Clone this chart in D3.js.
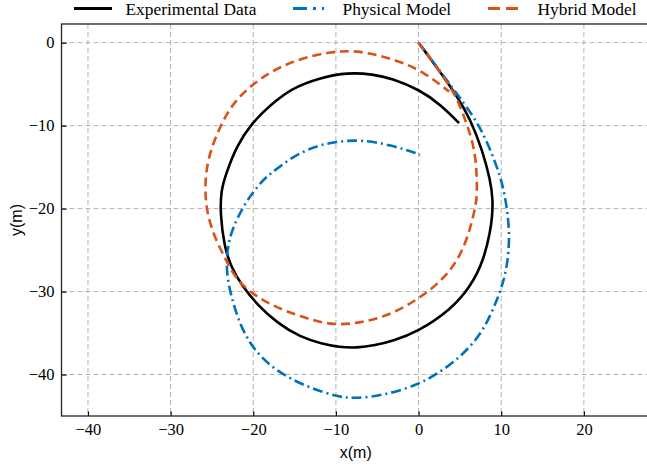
<!DOCTYPE html>
<html>
<head>
<meta charset="utf-8">
<script src="https://cdn.jsdelivr.net/npm/d3@7"></script>
<style>
  html, body { margin: 0; padding: 0; background: #fff; }
  svg { display: block; }
</style>
</head>
<body>
<svg id="chart"></svg>
<script>
width = 647;
height = 466;
margin = { top: 24, right: -3, bottom: 50, left: 61.5 };

// trajectories (metres)
expX = [0, 2.3, 4.7, 6.3, 7.7, 8.7, 9.0, 8.9, 8.7, 7.9, 6.3, 3.9, -0.2, -3.0, -5.3, -7.5, -9.6, -11.7, -14.3, -17.1, -19.5, -21.3, -22.7, -23.5, -24.0, -23.9, -23.3, -22.0, -20.1, -18.0, -15.4, -11.8, -8.6, -5.5, -3.3, 0.2, 2.7, 4.9];
expY = [0, -3.1, -6.5, -9.3, -12.9, -16.6, -19.0, -21.0, -22.6, -26.2, -29.4, -32.2, -34.9, -35.9, -36.5, -36.8, -36.7, -36.3, -35.5, -33.8, -31.6, -29.4, -27.0, -24.6, -20.6, -17.8, -15.8, -12.4, -9.6, -7.6, -5.5, -4.2, -3.6, -3.8, -4.3, -5.7, -7.5, -9.7];

physX = [0, 3.1, 5.5, 7.3, 8.7, 9.9, 10.5, 11.1, 10.7, 9.7, 7.9, 5.5, 2.7, -0.2, -4.2, -7.6, -9.8, -13.5, -17.1, -19.9, -21.5, -22.7, -23.3, -23.1, -22.6, -21.1, -18.9, -17.9, -15.5, -12.7, -9.8, -7.0, -3.4, 0.2];
physY = [0, -4.1, -7.3, -9.9, -12.9, -16.1, -18.6, -23.0, -27.4, -30.6, -34.7, -37.5, -39.7, -41.3, -42.5, -42.9, -42.7, -41.5, -39.7, -37.1, -34.3, -30.6, -27.4, -24.6, -22.6, -19.4, -16.6, -15.8, -13.9, -12.5, -11.9, -11.7, -12.3, -13.5];

hybX = [0, 2.3, 4.5, 5.5, 6.5, 7.0, 7.1, 6.9, 5.9, 4.3, 2.2, -0.2, -3.4, -7.0, -10.6, -14.3, -17.5, -20.3, -22.3, -23.5, -24.7, -25.6, -25.9, -25.5, -24.0, -22.4, -20.2, -17.6, -14.3, -10.6, -8.6, -6.6, -2.6, 0.6, 3.7];
hybY = [0, -3.1, -6.3, -8.9, -11.7, -14.5, -18.2, -19.8, -23.8, -27.0, -29.2, -31.0, -32.8, -33.8, -34.1, -33.0, -31.8, -30.2, -28.2, -25.8, -23.4, -20.6, -17.4, -13.8, -10.0, -7.2, -5.1, -3.3, -1.9, -1.1, -1.0, -1.1, -2.1, -3.5, -5.9];

xTicks = [-40, -30, -20, -10, 0, 10, 20];
yTicks = [0, -10, -20, -30, -40];

series = [
  { name: 'Experimental Data', xs: expX, ys: expY, color: '#000000', dash: null },
  { name: 'Physical Model', xs: physX, ys: physY, color: '#0072BD', dash: '10,4,2,4' },
  { name: 'Hybrid Model', xs: hybX, ys: hybY, color: '#D95319', dash: '9,5' }
];

const svg = d3.select('#chart').attr('width', width).attr('height', height);

x = d3.scaleLinear()
  .domain([-43.2, 28.0])
  .range([margin.left, width - margin.right]);

y = d3.scaleLinear()
  .domain([-45.0, 2.25])
  .range([height - margin.bottom, margin.top]);

// grid
svg.append('g')
  .attr('stroke', '#b4b4b4')
  .attr('stroke-width', 1)
  .attr('stroke-dasharray', '5,3')
  .call(g => g.selectAll('.gx').data(xTicks).join('line').attr('class', 'gx')
    .attr('x1', d => x(d)).attr('x2', d => x(d))
    .attr('y1', margin.top).attr('y2', height - margin.bottom))
  .call(g => g.selectAll('.gy').data(yTicks).join('line').attr('class', 'gy')
    .attr('x1', margin.left).attr('x2', width - margin.right)
    .attr('y1', d => y(d)).attr('y2', d => y(d)));

// curves (B-spline smooths the hand-read points)
line = d3.line()
  .x(d => x(d[0]))
  .y(d => y(d[1]))
  .curve(d3.curveBasis);

svg.append('clipPath').attr('id', 'clip')
  .append('rect')
  .attr('x', margin.left).attr('y', margin.top)
  .attr('width', width - margin.right - margin.left)
  .attr('height', height - margin.bottom - margin.top);

svg.append('g')
  .attr('clip-path', 'url(#clip)')
  .selectAll('path')
  .data(series)
  .join('path')
  .attr('fill', 'none')
  .attr('stroke', d => d.color)
  .attr('stroke-width', 2.6)
  .attr('stroke-dasharray', d => d.dash)
  .attr('d', d => line(d.xs.map((v, i) => [v, d.ys[i]])));

// axes
tickStyle = g => g
  .call(g => g.select('.domain').remove())
  .call(g => g.selectAll('.tick line').attr('stroke', '#000').attr('stroke-width', 1.2))
  .call(g => g.selectAll('.tick text')
    .attr('font-family', '"Liberation Serif", "Times New Roman", serif')
    .attr('font-size', 16.5).attr('fill', '#000'));

xAxis = g => g
  .attr('transform', `translate(0,${height - margin.bottom})`)
  .call(d3.axisBottom(x).tickValues(xTicks).tickSizeInner(-4.5).tickSizeOuter(0).tickPadding(7))
  .call(tickStyle);

yAxis = g => g
  .attr('transform', `translate(${margin.left},0)`)
  .call(d3.axisLeft(y).tickValues(yTicks).tickSizeInner(-5).tickSizeOuter(0).tickPadding(7))
  .call(tickStyle);

svg.append('g').call(xAxis);
svg.append('g').call(yAxis);

// frame
svg.append('rect')
  .attr('x', margin.left).attr('y', margin.top)
  .attr('width', width - margin.right - margin.left)
  .attr('height', height - margin.bottom - margin.top)
  .attr('fill', 'none')
  .attr('stroke', '#222')
  .attr('stroke-width', 1.3);

svg.append('text')
  .attr('x', (margin.left + width - margin.right) / 2)
  .attr('y', 458)
  .attr('text-anchor', 'middle')
  .attr('font-family', '"Liberation Sans", Arial, sans-serif')
  .attr('font-size', 16)
  .text('x(m)');

svg.append('text')
  .attr('transform', `translate(22,${(margin.top + height - margin.bottom) / 2}) rotate(-90)`)
  .attr('text-anchor', 'middle')
  .attr('font-family', '"Liberation Sans", Arial, sans-serif')
  .attr('font-size', 16)
  .text('y(m)');

// legend
legendX = [74, 293, 488];
const lg = svg.append('g')
  .selectAll('g')
  .data(series)
  .join('g')
  .attr('transform', (d, i) => `translate(${legendX[i]},8.5)`);

lg.append('line')
  .attr('x1', 0).attr('x2', (d, i) => i === 0 ? 38 : 31)
  .attr('stroke', d => d.color)
  .attr('stroke-width', 3)
  .attr('stroke-dasharray', (d, i) => i === 0 ? null : (i === 1 ? '14,6,3,6' : '12,6'));

lg.append('text')
  .attr('x', (d, i) => i === 0 ? 51.5 : 49.5)
  .attr('dy', '0.35em')
  .attr('font-family', '"Liberation Serif", "Times New Roman", serif')
  .attr('font-size', 17.4)
  .text(d => d.name);
</script>
</body>
</html>
